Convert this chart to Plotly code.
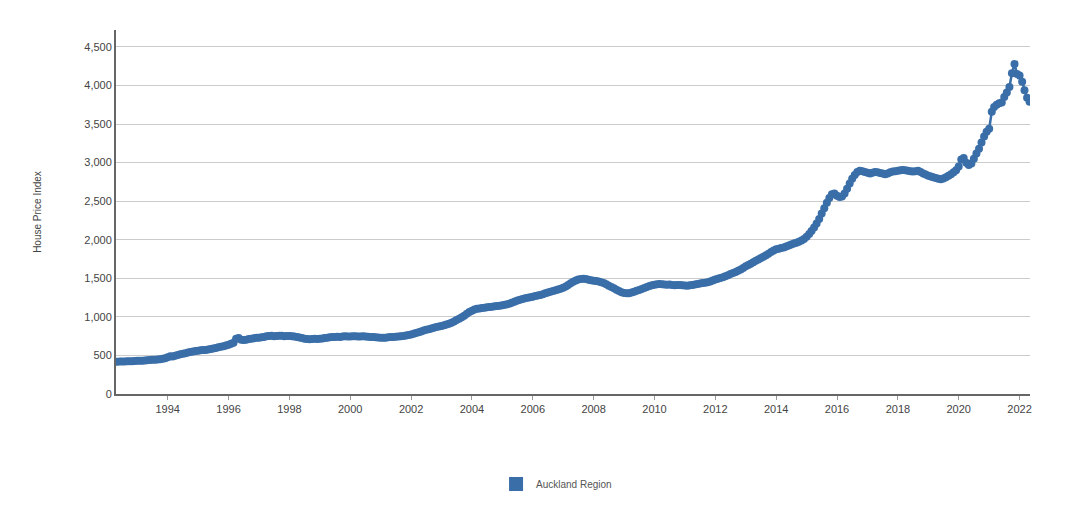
import pandas as pd
import plotly.graph_objects as go

# Monthly House Price Index, Auckland Region (May 1992 - May 2022)
v1992 = [418, 420, 422, 421, 424, 426, 425, 428]
v1993 = [430, 432, 431, 435, 438, 440, 443, 445, 448, 452, 458, 465]
v1994 = [478, 490, 485, 495, 505, 515, 522, 530, 538, 545, 552, 558]
v1995 = [562, 566, 570, 572, 578, 585, 590, 596, 605, 612, 620, 630]
v1996 = [640, 650, 665, 715, 725, 705, 700, 705, 712, 718, 722, 728]
v1997 = [730, 735, 740, 748, 752, 755, 750, 752, 756, 754, 750, 752]
v1998 = [752, 750, 745, 738, 732, 725, 718, 712, 710, 712, 715, 712]
v1999 = [715, 720, 725, 730, 735, 738, 740, 742, 740, 745, 748, 746]
v2000 = [745, 748, 750, 746, 745, 748, 744, 742, 740, 738, 735, 732]
v2001 = [730, 728, 730, 735, 738, 740, 742, 745, 748, 752, 758, 765]
v2002 = [772, 780, 790, 800, 810, 822, 832, 840, 850, 860, 868, 875]
v2003 = [882, 890, 900, 912, 925, 940, 958, 975, 995, 1015, 1040, 1062]
v2004 = [1080, 1095, 1105, 1110, 1115, 1120, 1125, 1128, 1132, 1138, 1142, 1145]
v2005 = [1150, 1158, 1165, 1175, 1188, 1200, 1212, 1222, 1232, 1240, 1248, 1255]
v2006 = [1262, 1270, 1278, 1285, 1295, 1305, 1315, 1325, 1335, 1345, 1355, 1365]
v2007 = [1378, 1395, 1415, 1435, 1455, 1472, 1485, 1492, 1495, 1490, 1482, 1475]
v2008 = [1468, 1465, 1460, 1450, 1438, 1422, 1405, 1388, 1370, 1352, 1335, 1320]
v2009 = [1310, 1305, 1308, 1315, 1325, 1338, 1350, 1362, 1375, 1388, 1400, 1410]
v2010 = [1418, 1422, 1425, 1422, 1420, 1418, 1420, 1415, 1410, 1412, 1415, 1410]
v2011 = [1408, 1405, 1410, 1415, 1420, 1425, 1432, 1438, 1442, 1450, 1460, 1472]
v2012 = [1485, 1495, 1505, 1515, 1528, 1540, 1555, 1568, 1582, 1598, 1615, 1635]
v2013 = [1655, 1672, 1690, 1710, 1728, 1745, 1762, 1780, 1800, 1820, 1842, 1862]
v2014 = [1878, 1885, 1892, 1900, 1912, 1925, 1938, 1950, 1962, 1975, 1990, 2010]
v2015 = [2040, 2075, 2115, 2160, 2210, 2270, 2340, 2410, 2480, 2540, 2590, 2600]
v2016 = [2570, 2555, 2560, 2600, 2660, 2730, 2790, 2840, 2880, 2895, 2890, 2880]
v2017 = [2870, 2860, 2870, 2880, 2875, 2865, 2860, 2850, 2860, 2875, 2885, 2890]
v2018 = [2895, 2900, 2905, 2900, 2895, 2890, 2885, 2890, 2895, 2880, 2860, 2845]
v2019 = [2830, 2820, 2810, 2800, 2790, 2785, 2795, 2810, 2830, 2850, 2875, 2900]
v2020 = [2950, 3040, 3060, 3000, 2970, 2990, 3050, 3120, 3180, 3260, 3340, 3400]
v2021 = [3440, 3660, 3720, 3750, 3770, 3780, 3850, 3910, 3980, 4160, 4280, 4150]
v2022 = [4130, 4050, 3940, 3840, 3790]

values = (v1992 + v1993 + v1994 + v1995 + v1996 + v1997 + v1998 + v1999 + v2000
          + v2001 + v2002 + v2003 + v2004 + v2005 + v2006 + v2007 + v2008 + v2009
          + v2010 + v2011 + v2012 + v2013 + v2014 + v2015 + v2016 + v2017 + v2018
          + v2019 + v2020 + v2021 + v2022)
dates = pd.date_range("1992-05-01", periods=len(values), freq="MS")

x_tick_years = [str(y) for y in range(1994, 2023, 2)]
y_ticks = [0, 500, 1000, 1500, 2000, 2500, 3000, 3500, 4000, 4500]
series_name = "Auckland Region"

color = "#3a6ea8"

fig = go.Figure()
fig.add_trace(go.Scatter(
    x=dates, y=values, mode="lines+markers", name=series_name,
    line=dict(color=color, width=2.5),
    marker=dict(color=color, size=8),
    showlegend=False,
))
fig.add_trace(go.Scatter(
    x=[None], y=[None], mode="markers", name=series_name,
    marker=dict(color=color, size=14, symbol="square"),
    showlegend=True,
))

fig.update_layout(
    width=1080, height=507,
    margin=dict(l=108, r=58, t=22, b=121),
    paper_bgcolor="white", plot_bgcolor="white",
    font=dict(family="Arial, Liberation Sans, sans-serif", size=11, color="#444"),
    legend=dict(orientation="h", x=0.482, xanchor="center", y=-0.247, yanchor="middle",
                font=dict(size=10, color="#555")),
    xaxis=dict(
        type="date",
        range=["1992-04-20", "2022-05-06"],
        tickvals=[f"{y}-01-01" for y in x_tick_years],
        ticktext=x_tick_years,
        showgrid=False, showline=True, linecolor="#666", linewidth=2,
        ticks="outside", ticklen=4, tickcolor="#999",
        tickfont=dict(size=11, color="#444"),
        zeroline=False,
    ),
    yaxis=dict(
        range=[0, 4720],
        tickvals=y_ticks,
        ticktext=[f"{v:,}" for v in y_ticks],
        showgrid=True, gridcolor="#cccccc", gridwidth=1,
        showline=True, linecolor="#666", linewidth=2,
        ticks="", tickfont=dict(size=11, color="#444"),
        title=dict(text="House Price Index", font=dict(size=10, color="#444"), standoff=41),
        zeroline=False, automargin=False,
    ),
)

fig.write_html("out.html")
